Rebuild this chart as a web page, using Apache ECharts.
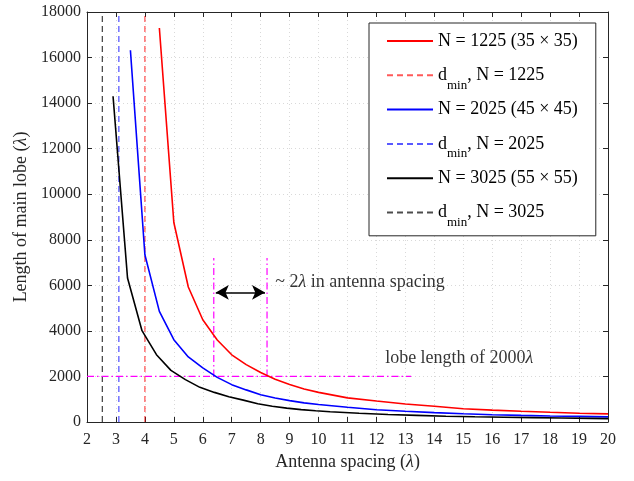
<!DOCTYPE html>
<html>
<head>
<meta charset="utf-8">
<script src="https://cdn.jsdelivr.net/npm/echarts@6/dist/echarts.min.js"></script>
<style>
html,body{margin:0;padding:0;background:#fff;}
#chart{width:634px;height:481px;}
</style>
</head>
<body>
<div id="chart"></div>
<script>
// ---- data ----
var redX   = [4.5,5,5.5,6,6.5,7,7.5,8,8.5,9,9.5,10,11,12,13,14,15,16,17,18,19,20];
var redY   = [17300,8760,5925,4490,3600,2950,2520,2170,1880,1650,1450,1300,1060,920,790,690,580,520,470,425,385,355];
var blueX  = [3.5,4,4.5,5,5.5,6,6.5,7,7.5,8,8.5,9,9.5,10,11,12,13,14,15,16,17,18,19,20];
var blueY  = [16320,7340,4855,3614,2855,2373,1960,1640,1410,1200,1050,940,840,770,650,535,470,410,360,320,290,265,245,225];
var blackX = [2.9,3.4,3.9,4.4,4.9,5.4,5.9,6.4,6.9,7.4,7.9,8.4,8.9,9.4,9.9,10.4,11.4,12.4,13.4,14.4,15.4,16.4,17.4,18.4,19.4,20];
var blackY = [14300,6320,4009,2956,2268,1860,1522,1300,1110,960,800,690,610,545,495,450,385,330,290,255,230,210,190,175,160,150];
var dminValues = [4.0, 3.1, 2.53];
var seriesNames = ['N = 1225 (35 \u00d7 35)', 'N = 2025 (45 \u00d7 45)', 'N = 3025 (55 \u00d7 55)'];
var dminNames = ['dmin, N = 1225', 'dmin, N = 2025', 'dmin, N = 3025'];
var lobeThreshold = 2000;
var thresholdEndX = 13.2;
var crossingX = [6.38, 8.22];
var crossingTop = 7200;
var arrowSpan = [6.45, 8.15];
var arrowLevel = 5690;
var xTicks = {min: 2, max: 20, step: 1};
var yTicks = {min: 0, max: 18000, step: 2000};

function pairs(xs, ys){ return xs.map(function(x,i){ return [x, ys[i]]; }); }

var FONT = 'Liberation Serif';
var AX = '#262626';
var chart = echarts.init(document.getElementById('chart'), null, {renderer:'canvas'});

var solidColors = ['#ff0000', '#0000ff', '#000000'];
var dashColors = ['rgba(255,0,0,0.65)', 'rgba(0,0,255,0.65)', 'rgba(0,0,0,0.7)'];
var curves = [pairs(redX, redY), pairs(blueX, blueY), pairs(blackX, blackY)];

var series = [];
for (var k = 0; k < 3; k++) {
  series.push({
    name: seriesNames[k], type: 'line', data: curves[k], symbol: 'none', z: 5,
    lineStyle: {color: solidColors[k], width: 1.6}, itemStyle: {color: solidColors[k]}
  });
  series.push({
    name: dminNames[k], type: 'line', symbol: 'none', z: 3,
    data: [[dminValues[k], yTicks.min], [dminValues[k], yTicks.max]],
    lineStyle: {color: dashColors[k], width: 1.3, type: [6, 4]}, itemStyle: {color: dashColors[k]}
  });
}
var magenta = {color: '#ff00ff', width: 1.2, type: [7, 3, 1.5, 3]};
series.push({
  name: 'threshold', type: 'line', symbol: 'none', z: 4,
  data: [[xTicks.min, lobeThreshold], [thresholdEndX, lobeThreshold]], lineStyle: magenta
});
crossingX.forEach(function(cx, i){
  series.push({
    name: 'cross' + i, type: 'line', symbol: 'none', z: 4,
    data: [[cx, lobeThreshold], [cx, crossingTop]], lineStyle: magenta
  });
});
series.push({
  name: 'arrow', type: 'line', data: [], symbol: 'none',
  markLine: {
    silent: true, symbol: ['arrow', 'arrow'], symbolSize: [11, 13],
    label: {show: false},
    lineStyle: {color: '#000', width: 1.5, type: 'solid'},
    data: [[{coord: [arrowSpan[0], arrowLevel]}, {coord: [arrowSpan[1], arrowLevel]}]]
  }
});
series.push({
  name: 'notes', type: 'scatter', symbolSize: 0, z: 6,
  data: [
    {value: [8.5, 6130], label: {formatter: '{r|~ 2}{i|\u03bb}{r| in antenna spacing}'}},
    {value: [12.3, 2800], label: {formatter: '{r|lobe length of 2000}{i|\u03bb}'}}
  ],
  label: {
    show: true, position: 'right', distance: 0,
    rich: {
      r: {fontFamily: FONT, fontSize: 18, color: '#000'},
      i: {fontFamily: FONT, fontSize: 18, fontStyle: 'italic', color: '#000'}
    }
  }
});

var baseText = {fontFamily: FONT, fontSize: 18, color: '#000', lineHeight: 20};
chart.setOption({
  animation: false,
  backgroundColor: '#fff',
  grid: {left: 87, right: 26, top: 12, bottom: 59, containLabel: false},
  xAxis: [{
    type: 'value', min: xTicks.min, max: xTicks.max, interval: xTicks.step,
    name: 'Antenna spacing ({i|\u03bb})', nameLocation: 'middle', nameGap: 31,
    nameTextStyle: {fontFamily: FONT, fontSize: 18, color: AX,
      rich: {i: {fontFamily: FONT, fontSize: 18, fontStyle: 'italic', color: AX}}},
    axisLine: {show: true, onZero: false, lineStyle: {color: AX, width: 1}},
    axisTick: {show: true, inside: true, length: 5, lineStyle: {color: AX}},
    axisLabel: {fontFamily: FONT, fontSize: 16, color: AX, margin: 10},
    splitLine: {show: true, lineStyle: {color: '#d9d9d9', type: [1, 3], width: 1}}
  }, {
    type: 'value', position: 'top', min: xTicks.min, max: xTicks.max, interval: xTicks.step,
    axisLine: {show: true, onZero: false, lineStyle: {color: AX, width: 1}},
    axisTick: {show: true, inside: true, length: 5, lineStyle: {color: AX}},
    axisLabel: {show: false}, splitLine: {show: false}
  }],
  yAxis: [{
    type: 'value', min: yTicks.min, max: yTicks.max, interval: yTicks.step,
    name: 'Length of main lobe ({i|\u03bb})', nameLocation: 'middle', nameGap: 52,
    nameTextStyle: {fontFamily: FONT, fontSize: 18, color: AX,
      rich: {i: {fontFamily: FONT, fontSize: 18, fontStyle: 'italic', color: AX}}},
    axisLine: {show: true, onZero: false, lineStyle: {color: AX, width: 1}},
    axisTick: {show: true, inside: true, length: 5, lineStyle: {color: AX}},
    axisLabel: {fontFamily: FONT, fontSize: 16, color: AX, margin: 6, formatter: function(v){ return String(v); }},
    splitLine: {show: true, lineStyle: {color: '#d9d9d9', type: [1, 3], width: 1}}
  }, {
    type: 'value', position: 'right', min: yTicks.min, max: yTicks.max, interval: yTicks.step,
    axisLine: {show: true, onZero: false, lineStyle: {color: AX, width: 1}},
    axisTick: {show: true, inside: true, length: 5, lineStyle: {color: AX}},
    axisLabel: {show: false}, splitLine: {show: false}
  }],
  legend: {
    show: true, orient: 'vertical', left: 369, top: 23,
    data: [seriesNames[0], dminNames[0], seriesNames[1], dminNames[1], seriesNames[2], dminNames[2]],
    backgroundColor: '#fff', borderColor: AX, borderWidth: 1, borderRadius: 0,
    padding: [1.5, 18, 6.8, 17], itemGap: 1.3, itemWidth: 46, itemHeight: 14, itemTextGap: 5,
    selectedMode: false,
    itemStyle: {color: 'transparent', borderColor: 'transparent', borderWidth: 0, opacity: 0},
    formatter: function(name){
      if (name.indexOf('dmin') === 0) {
        return '{t|d}{s|min}{t|' + name.slice(4) + '}';
      }
      return '{t|' + name + '}{s|\u200b}';
    },
    textStyle: {
      fontFamily: FONT, fontSize: 18, color: '#000', lineHeight: 20,
      rich: {
        t: baseText,
        s: {fontFamily: FONT, fontSize: 13, color: '#000', lineHeight: 20, padding: [20, 0, 0, 0]}
      }
    }
  },
  series: series
});
</script>
</body>
</html>
